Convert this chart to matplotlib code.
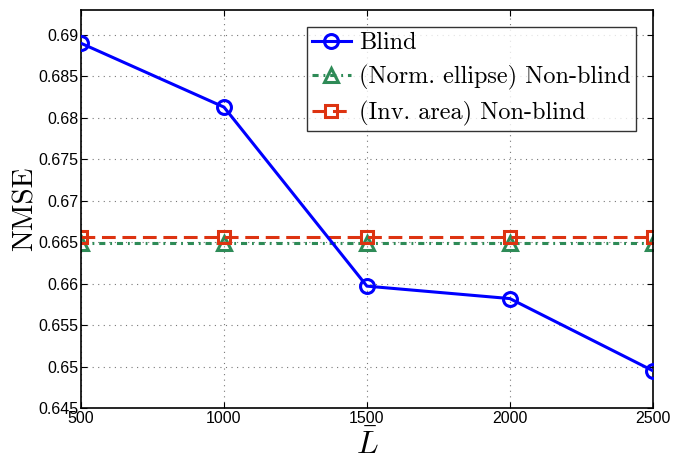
import matplotlib
matplotlib.use("Agg")
import matplotlib.pyplot as plt

L_values = [500, 1000, 1500, 2000, 2500]
blind = [0.6890, 0.6813, 0.6597, 0.6582, 0.6495]
norm_ellipse = [0.66496, 0.66496, 0.66496, 0.66496, 0.66496]
inv_area = [0.66564, 0.66564, 0.66564, 0.66564, 0.66564]
x_ticks = [500, 1000, 1500, 2000, 2500]
y_ticks = [0.645, 0.65, 0.655, 0.66, 0.665, 0.67, 0.675, 0.68, 0.685, 0.69]
y_tick_labels = ["0.645", "0.65", "0.655", "0.66", "0.665", "0.67", "0.675", "0.68", "0.685", "0.69"]

plt.rcParams['mathtext.fontset'] = 'cm'
fig = plt.figure(figsize=(6.73, 4.62), dpi=100)
ax = fig.add_axes([0.1204, 0.1169, 0.8496, 0.8612])

ax.plot(L_values, blind, color='#0000FF', lw=2.2, marker='o', ms=10,
        mfc='none', mew=2.2, label='Blind', zorder=3)
ax.plot(L_values, norm_ellipse, color='#2E8B57', lw=2.2, ls=(0, (2.0, 1.6, 0.6, 1.6)),
        marker='^', ms=9.5, mfc='none', mew=2.2, label='(Norm. ellipse) Non-blind', zorder=2)
ax.plot(L_values, inv_area, color='#DD3311', lw=2.2, ls=(0, (4.5, 2.2)),
        marker='s', ms=8, mfc='none', mew=2.2, label='(Inv. area) Non-blind', zorder=2)

ax.set_xlim(500, 2500)
ax.set_ylim(0.645, 0.693)
ax.set_xticks(x_ticks)
ax.set_xticklabels([str(v) for v in x_ticks])
ax.set_yticks(y_ticks)
ax.set_yticklabels(y_tick_labels)
ax.grid(True, ls=(0, (1, 4)), color='#777777', lw=0.8)
ax.tick_params(direction='in', top=True, right=True, length=4, width=0.8,
               labelsize=11.5, pad=2)
for lab in ax.get_xticklabels() + ax.get_yticklabels():
    lab.set_family('Liberation Sans')
for sp in ax.spines.values():
    sp.set_linewidth(1.2)

ax.set_ylabel('NMSE', family='cmr10', fontsize=21, labelpad=0)
ax.set_xlabel(r'$\bar{L}$', fontsize=23, labelpad=3)

leg = ax.legend(loc='upper right', prop={'family': 'cmr10', 'size': 17.5},
                frameon=True, fancybox=False, edgecolor='black',
                handlelength=1.6, handletextpad=0.35, borderaxespad=0.7,
                labelspacing=0.45, borderpad=0.2)
leg.get_frame().set_linewidth(1.0)

fig.savefig('out.png', dpi=100)
